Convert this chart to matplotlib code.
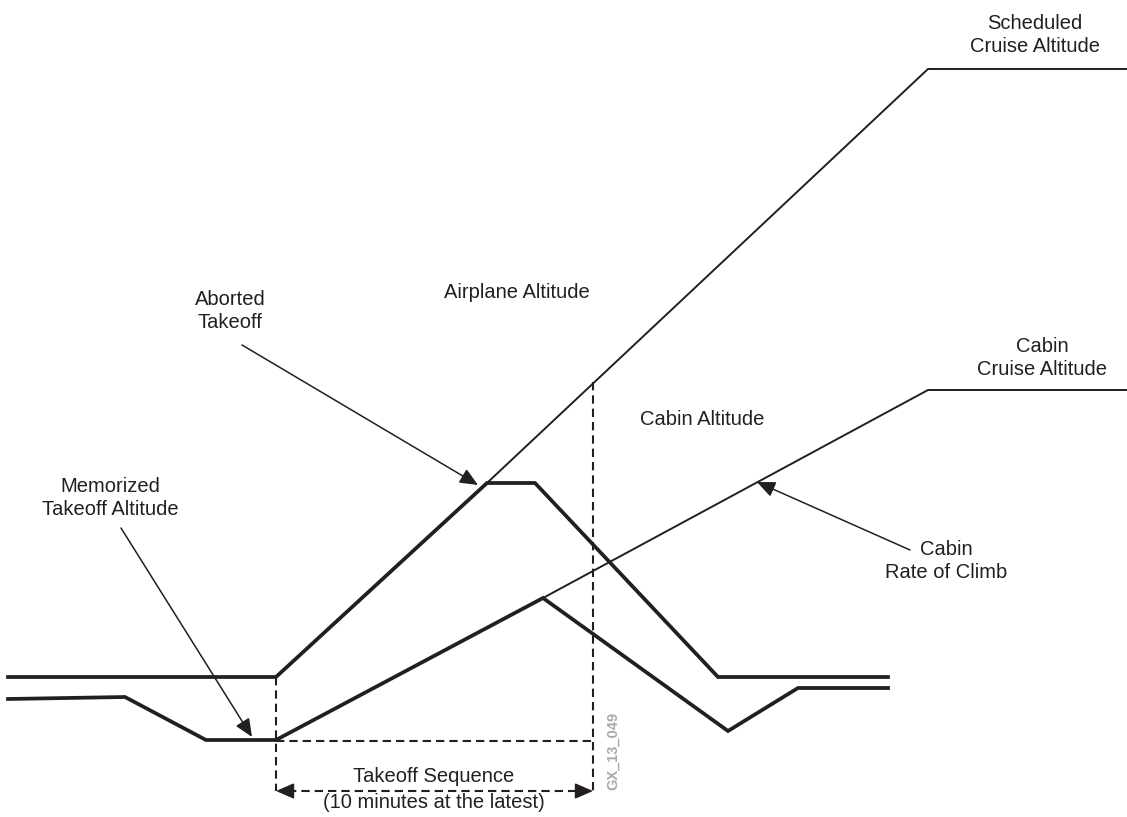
import matplotlib
matplotlib.use("Agg")
import matplotlib.pyplot as plt

# diagram coordinates (x: time, y: screen position, top = 0)
plane_x = [8, 276, 487, 535, 718, 888]
plane_y = [677, 677, 483, 483, 677, 677]
plane_cont_x = [487, 928, 1127]          # scheduled climb after the abort point
plane_cont_y = [483, 69, 69]

cabin_x = [8, 125, 206, 276, 543, 728, 798, 888]
cabin_y = [699, 697, 740, 740, 598, 731, 688, 688]
cabin_cont_x = [543, 928, 1127]
cabin_cont_y = [598, 390, 390]

seq_start, seq_end = 276, 593
seq_arrow_y = 791
memo_y = 741

labels = [
    ("Scheduled\nCruise Altitude", 1035, 35),
    ("Airplane Altitude", 517, 293),
    ("Aborted\nTakeoff", 230, 311),
    ("Cabin\nCruise Altitude", 1042, 358),
    ("Cabin Altitude", 702, 419),
    ("Memorized\nTakeoff Altitude", 110, 498),
    ("Cabin\nRate of Climb", 946, 561),
]

pointers = [
    # (text end, arrow tip)
    ((242, 345), (478, 485)),
    ((121, 528), (252, 737)),
    ((910, 550), (757, 482)),
]

ink = "#231f20"
plt.rcParams['font.family'] = ['Liberation Sans', 'DejaVu Sans']

fig = plt.figure(figsize=(11.27, 8.17), dpi=100)
ax = fig.add_axes([0, 0, 1, 1])
ax.set_xlim(0, 1127)
ax.set_ylim(817, 0)
ax.axis('off')

# dashed guides
dash = (0, (4, 2.4))
ax.plot([seq_start, seq_start], [plane_y[1], seq_arrow_y], color=ink, lw=1.5, ls=dash)
ax.plot([seq_end, seq_end], [382, seq_arrow_y], color=ink, lw=1.5, ls=dash)
ax.plot([seq_start, seq_end], [memo_y, memo_y], color=ink, lw=1.5, ls=dash)
ax.plot([seq_start + 12, seq_end - 12], [seq_arrow_y, seq_arrow_y], color=ink, lw=1.5, ls=dash)
for a, b in [(seq_start + 14, seq_start), (seq_end - 14, seq_end)]:
    ax.annotate("", xy=(b, seq_arrow_y), xytext=(a, seq_arrow_y),
                arrowprops=dict(arrowstyle="-|>,head_length=0.55,head_width=0.24",
                                color=ink, lw=1.2, mutation_scale=20, shrinkA=0, shrinkB=0))

# thin continuations
ax.plot(plane_cont_x, plane_cont_y, color=ink, lw=1.4, solid_joinstyle='miter')
ax.plot(cabin_cont_x, cabin_cont_y, color=ink, lw=1.4, solid_joinstyle='miter')

# thick actual profiles
ax.plot(plane_x, plane_y, color=ink, lw=2.7, solid_joinstyle='miter')
ax.plot(cabin_x, cabin_y, color=ink, lw=2.7, solid_joinstyle='miter')

for (x0, y0), (x1, y1) in pointers:
    ax.annotate("", xy=(x1, y1), xytext=(x0, y0),
                arrowprops=dict(arrowstyle="-|>,head_length=0.55,head_width=0.24",
                                color=ink, lw=1.1, mutation_scale=20, shrinkA=0, shrinkB=0))

for txt, x, y in labels:
    ax.text(x, y, txt, ha='center', va='center', fontsize=14.5, color=ink, linespacing=1.3)

ax.text(434, 776, "Takeoff Sequence", ha='center', va='center', fontsize=14.5, color=ink)
ax.text(434, 803, "(10 minutes at the latest)", ha='center', va='center', fontsize=14.5, color=ink)

ax.text(613, 751, "GX_13_049", rotation=90, ha='center', va='center', fontsize=10.5,
        color="#a7a9ac", fontweight='bold')

fig.savefig("out.png", dpi=100)
